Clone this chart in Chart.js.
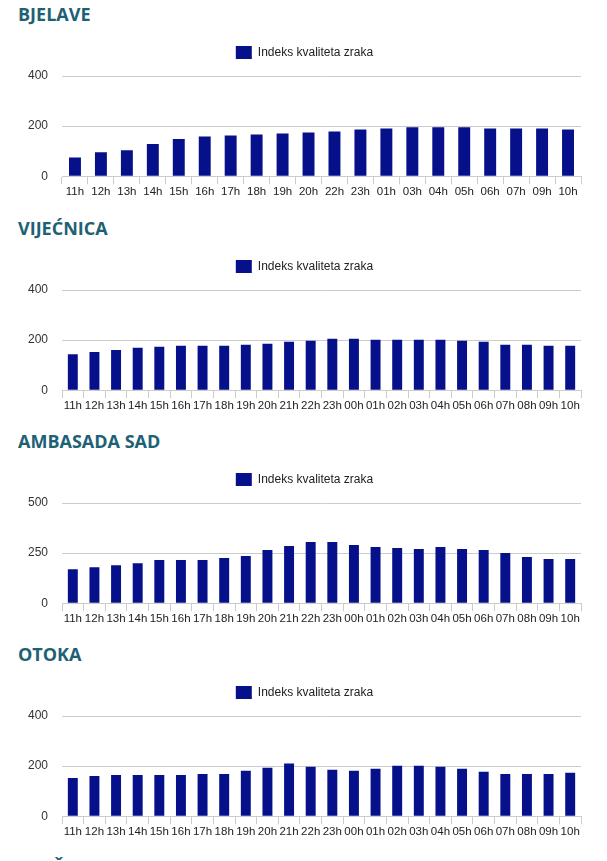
<!DOCTYPE html>
<html>
<head>
<meta charset="utf-8">
<script src="https://cdn.jsdelivr.net/npm/chart.js@4"></script>
<style>
  body { margin: 0; background: #fff; width: 607px; height: 861px; overflow: hidden; position: relative; }
  .block { position: absolute; left: 0; width: 607px; height: 214px; }
  .block h2 { position: absolute; left: 18px; top: 2px; margin: 0; font: bold 18px "Open Sans", sans-serif; color: #1d6175; white-space: nowrap; }
  .block .wrap { position: absolute; left: 0; top: 36px; width: 607px; height: 164px; }
</style>
</head>
<body>

<div class="block" style="top:0px"><h2>BJELAVE</h2><div class="wrap"><canvas id="c1"></canvas></div></div>
<div class="block" style="top:214px"><h2>VIJEĆNICA</h2><div class="wrap"><canvas id="c2"></canvas></div></div>
<div class="block" style="top:427px"><h2>AMBASADA SAD</h2><div class="wrap"><canvas id="c3"></canvas></div></div>
<div class="block" style="top:640px"><h2>OTOKA</h2><div class="wrap"><canvas id="c4"></canvas></div></div>
<div class="block" style="top:853px"><h2>ILIDŽA</h2></div>

<script>
// sati (kategorije)
const satiBjelave = ['11h', '12h', '13h', '14h', '15h', '16h', '17h', '18h', '19h', '20h',
                     '22h', '23h', '01h', '03h', '04h', '05h', '06h', '07h', '09h', '10h'];
const satiSvi = ['11h', '12h', '13h', '14h', '15h', '16h', '17h', '18h', '19h', '20h', '21h', '22h',
                 '23h', '00h', '01h', '02h', '03h', '04h', '05h', '06h', '07h', '08h', '09h', '10h'];

// indeks kvaliteta zraka po stanici
const bjelave = [75, 96, 104, 129, 149, 158, 162, 166, 170, 174,
                 178, 186, 190, 195, 195, 195, 190, 190, 190, 186];
const vijecnica = [144, 152, 160, 169, 173, 177, 177, 177, 181, 185, 193, 197,
                   205, 205, 201, 201, 201, 201, 197, 193, 181, 181, 177, 177];
const ambasada = [169, 179, 189, 199, 215, 215, 215, 225, 235, 265, 285, 306,
                  306, 291, 280, 275, 270, 280, 270, 265, 250, 230, 220, 220];
const otoka = [152, 160, 164, 164, 164, 164, 168, 168, 181, 193, 210, 197,
               185, 181, 189, 201, 201, 197, 189, 177, 168, 168, 168, 173];

// oznake y osi
const yMax400 = 400, yStep400 = 200;
const yMax500 = 500, yStep500 = 250;

const labelFont = { family: 'Liberation Sans', size: 12 };
const satiFont = { family: 'Liberation Sans', size: 11.5 };

// malo vise mjesta ispod legende
const legendaRazmak = {
  id: 'legendaRazmak',
  beforeInit(chart) {
    const fit = chart.legend.fit;
    chart.legend.fit = function() {
      fit.bind(chart.legend)();
      this.height += 7;
    };
  }
};

function napraviGraf(id, sati, vrijednosti, maxY, korak) {
  const ctx = document.getElementById(id).getContext('2d');
  new Chart(ctx, {
    type: 'bar',
    data: {
      labels: sati,
      datasets: [{
        label: 'Indeks kvaliteta zraka',
        data: vrijednosti,
        backgroundColor: '#06108a',
        borderWidth: 0,
        barPercentage: 0.46,
        categoryPercentage: 1
      }]
    },
    options: {
      responsive: true,
      maintainAspectRatio: false,
      animation: false,
      layout: { padding: { left: 28, right: 26, top: 0, bottom: 0 } },
      plugins: {
        tooltip: { enabled: false },
        legend: {
          labels: { boxWidth: 16, boxHeight: 13, padding: 10, color: '#222', font: labelFont }
        }
      },
      scales: {
        x: {
          offset: true,
          grid: { offset: true, drawOnChartArea: false, tickLength: 8, color: '#cccccc' },
          border: { color: '#cccccc' },
          ticks: { color: '#222', font: satiFont, padding: 1, maxRotation: 0, autoSkip: false }
        },
        y: {
          min: 0,
          max: maxY,
          grid: { drawTicks: false, color: '#cccccc' },
          border: { display: false },
          ticks: { stepSize: korak, color: '#333', font: labelFont, padding: 14 },
          afterFit: function(s) { s.width = 34; }
        }
      }
    },
    plugins: [legendaRazmak]
  });
}

napraviGraf('c1', satiBjelave, bjelave, yMax400, yStep400);
napraviGraf('c2', satiSvi, vijecnica, yMax400, yStep400);
napraviGraf('c3', satiSvi, ambasada, yMax500, yStep500);
napraviGraf('c4', satiSvi, otoka, yMax400, yStep400);
</script>
</body>
</html>
